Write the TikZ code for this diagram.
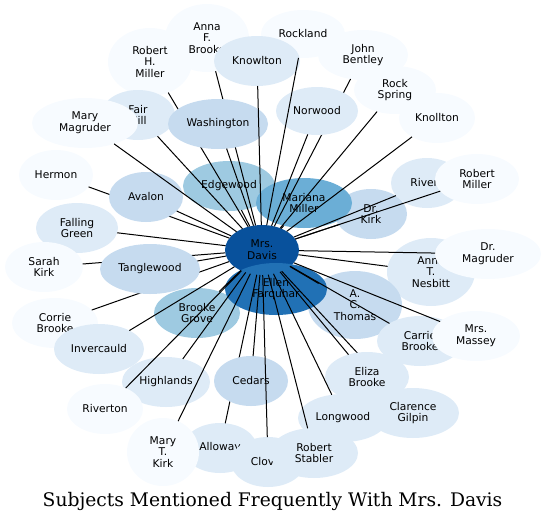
\documentclass[tikz,border=0pt]{standalone}
\usepackage{fontspec}
\setmainfont{DejaVu Sans}
\newfontfamily\titlefont{DejaVu Serif}
\usetikzlibrary{shapes.geometric}
\definecolor{cA}{HTML}{08519C}
\definecolor{cB}{HTML}{2171B5}
\definecolor{cC}{HTML}{6BAED6}
\definecolor{cD}{HTML}{9ECAE1}
\definecolor{cE}{HTML}{C6DBEF}
\definecolor{cF}{HTML}{DEEBF7}
\definecolor{cG}{HTML}{F7FBFF}
\begin{document}
\begin{tikzpicture}[x=1pt,y=-1pt,
  nd/.style={ellipse, draw=none, inner sep=0pt, outer sep=0pt, align=center,
    font=\fontsize{10.7}{11.8}\selectfont, text=black},
  sz/.style 2 args={minimum width=#1pt, minimum height=#2pt},
  ed/.style={draw=black, line width=1pt}]
\useasboundingbox (0,0) rectangle (546,523);
% base layer
\node[nd, fill=cD, sz={92}{50}] (edgewood) at (229,186) {Edgewood};
\node[nd, fill=cE, sz={72}{50}] (drkirk) at (371,214) {Dr.\\Kirk};
\node[nd, fill=cC, sz={96}{50}] (mariana) at (304,203) {Mariana\\Miller};
\node[nd, fill=cA, sz={74}{50}] (davis) at (262,250) {Mrs.\\Davis};
\node[nd, fill=cF, sz={88}{68}] (nesbitt) at (431,272) {Anna\\T.\\Nesbitt};
\node[nd, fill=cE, sz={94}{68}] (thomas) at (355,305) {A.\\C.\\Thomas};
\node[nd, fill=cF, sz={82}{50}] (fallinggreen) at (77,228) {Falling\\Green};
\node[nd, fill=cG, sz={78}{50}] (sarahkirk) at (44,267) {Sarah\\Kirk};
\node[nd, fill=cG, sz={86}{50}] (corrie) at (55,323) {Corrie\\Brooke};
\draw[ed] (davis) -- (sarahkirk);
\draw[ed] (davis) -- (corrie);
\node[nd, fill=cE, sz={100}{50}] (tanglewood) at (150,269) {Tanglewood};
\node[nd, fill=cD, sz={86}{50}] (brookegrove) at (197,313) {Brooke\\Grove};
\node[nd, fill=cB, sz={102}{52}] (ellen) at (276,289) {Ellen\\Farquhar};
\draw[ed] (davis) -- (tanglewood);
\draw[ed] (davis) -- (fallinggreen);
\draw[ed] (davis) -- (edgewood);
\draw[ed] (davis) -- (mariana);
% left upper
\node[nd, fill=cG, sz={74}{50}] (hermon) at (56,175) {Hermon};
\draw[ed] (davis) -- (hermon);
\node[nd, fill=cE, sz={74}{50}] (avalon) at (146,197) {Avalon};
\draw[ed] (davis) -- (avalon);
\node[nd, fill=cG, sz={84}{68}] (rhmiller) at (150,62) {Robert\\H.\\Miller};
\node[nd, fill=cF, sz={74}{50}] (fairhill) at (138,115) {Fair\\Hill};
\node[nd, fill=cG, sz={84}{68}] (annafb) at (207,38) {Anna\\F.\\Brooke};
\node[nd, fill=cG, sz={106}{50}] (marymagruder) at (85,123) {Mary\\Magruder};
\draw[ed] (davis) -- (rhmiller);
\draw[ed] (davis) -- (annafb);
\node[nd, fill=cE, sz={100}{50}] (washington) at (218,124) {Washington};
\draw[ed] (davis) -- (washington);
\draw[ed] (davis) -- (fairhill);
\draw[ed] (davis) -- (marymagruder);
\node[nd, fill=cG, sz={84}{48}] (rockland) at (303,34) {Rockland};
\node[nd, fill=cF, sz={86}{50}] (knowlton) at (257,61) {Knowlton};
\draw[ed] (davis) -- (knowlton);
\node[nd, fill=cG, sz={90}{50}] (bentley) at (363,55) {John\\Bentley};
\draw[ed] (davis) -- (bentley);
\node[nd, fill=cF, sz={82}{48}] (norwood) at (317,111) {Norwood};
\draw[ed] (davis) -- (norwood);
\draw[ed] (davis) -- (rockland);
\node[nd, fill=cG, sz={82}{48}] (rockspring) at (395,90) {Rock\\Spring};
\node[nd, fill=cG, sz={76}{50}] (knollton) at (437,118) {Knollton};
\draw[ed] (davis) -- (rockspring);
\draw[ed] (davis) -- (knollton);
% right
\node[nd, fill=cF, sz={72}{50}] (rivers) at (427,183) {Rivers};
\node[nd, fill=cG, sz={84}{50}] (rmiller) at (477,179) {Robert\\Miller};
\draw[ed] (davis) -- (rivers);
\draw[ed] (davis) -- (rmiller);
\draw[ed] (davis) -- (drkirk);
\draw[ed] (davis) -- (nesbitt);
\node[nd, fill=cG, sz={106}{50}] (drmagruder) at (488,254) {Dr.\\Magruder};
\draw[ed] (davis) -- (drmagruder);
\node[nd, fill=cF, sz={86}{50}] (carrie) at (420,341) {Carrie\\Brooke};
\node[nd, fill=cG, sz={88}{50}] (massey) at (476,336) {Mrs.\\Massey};
\draw[ed] (davis) -- (carrie);
\draw[ed] (davis) -- (massey);
\draw[ed] (davis) -- (thomas);
% bottom
\node[nd, fill=cF, sz={92}{50}] (clarence) at (413,413) {Clarence\\Gilpin};
\draw[ed] (davis) -- (clarence);
\node[nd, fill=cF, sz={84}{50}] (eliza) at (367,377) {Eliza\\Brooke};
\draw[ed] (davis) -- (eliza);
\node[nd, fill=cF, sz={90}{48}] (longwood) at (343,418) {Longwood};
\draw[ed] (davis) -- (longwood);
\node[nd, fill=cF, sz={74}{50}] (alloway) at (220,448) {Alloway};
\draw[ed] (davis) -- (alloway);
\node[nd, fill=cE, sz={74}{50}] (cedars) at (251,381) {Cedars};
\draw[ed] (davis) -- (cedars);
\node[nd, fill=cF, sz={74}{50}] (clover) at (268,462) {Clover};
\node[nd, fill=cF, sz={88}{50}] (stabler) at (314,453) {Robert\\Stabler};
\draw[ed] (davis) -- (clover);
\draw[ed] (davis) -- (stabler);
\node[nd, fill=cF, sz={88}{50}] (highlands) at (166,382) {Highlands};
\node[nd, fill=cF, sz={90}{50}] (invercauld) at (99,349) {Invercauld};
\node[nd, fill=cG, sz={76}{50}] (riverton) at (105,409) {Riverton};
\node[nd, fill=cG, sz={72}{68}] (marytkirk) at (163,452) {Mary\\T.\\Kirk};
\draw[ed] (davis) -- (highlands);
\draw[ed] (davis) -- (invercauld);
\draw[ed] (davis) -- (riverton);
\draw[ed] (davis) -- (marytkirk);
\draw[ed] (davis) -- (brookegrove);
% title
\node[font=\titlefont\fontsize{18.7}{22}\selectfont, inner sep=0pt] (title) at (272.5,501) {Subjects Mentioned Frequently With Mrs. Davis};
\end{tikzpicture}
\end{document}
